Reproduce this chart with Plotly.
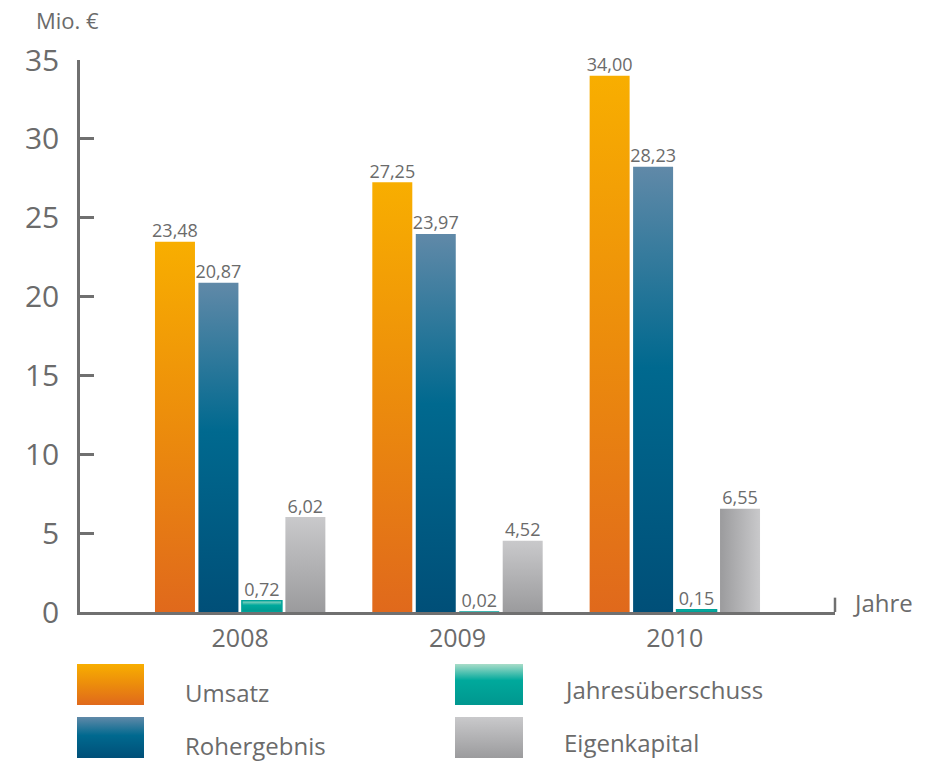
import plotly.graph_objects as go

# ---- data (Mio. €) ----
years = ["2008", "2009", "2010"]
series_names = ["Umsatz", "Rohergebnis", "Jahresüberschuss", "Eigenkapital"]
umsatz = [23.48, 27.25, 34.00]
rohergebnis = [20.87, 23.97, 28.23]
jahresueberschuss = [0.72, 0.02, 0.15]
eigenkapital = [6.02, 4.52, 6.55]
y_ticks = [0, 5, 10, 15, 20, 25, 30, 35]

values = [umsatz, rohergebnis, jahresueberschuss, eigenkapital]

# ---- styling ----
TXT = "#6b6b6b"
AXIS = "#707070"
FONT = "Open Sans"
gradients = [
    [[0, "#e0691c"], [0.5, "#ec8c0c"], [1, "#f8ae00"]],
    [[0, "#004f78"], [0.55, "#00698f"], [1, "#6089a8"]],
    [[0, "#00978f"], [0.6, "#00a99c"], [1, "#a8dcc8"]],
    [[0, "#9b9b9d"], [1, "#c9c9cb"]],
]
edge = ["#e0691c", "#004f78", "#00a39a", "#9b9b9d"]

slot = 0.2        # distance between bars inside a group
half_w = 0.092    # half bar width (axis units)

fig = go.Figure()

for j, (name, vals) in enumerate(zip(series_names, values)):
    xs_c = []
    for i, v in enumerate(vals):
        xc = i + (j - 1.5) * slot
        xs_c.append(xc)
        grad = dict(type="vertical", colorscale=gradients[j], start=0, stop=v)
        # last equity bar is shaded left-to-right
        if j == 3 and i == 2:
            grad = dict(type="horizontal", colorscale=gradients[j],
                        start=xc - half_w, stop=xc + half_w)
        fig.add_trace(go.Scatter(
            x=[xc - half_w, xc + half_w, xc + half_w, xc - half_w, xc - half_w],
            y=[0, 0, v, v, 0],
            mode="lines", fill="toself", fillgradient=grad,
            line=dict(width=1.5 if j == 2 else 0, color=edge[j]),
            hoverinfo="skip", showlegend=False,
        ))
    fig.add_trace(go.Scatter(
        x=xs_c, y=vals, mode="text",
        text=[f"{v:.2f}".replace(".", ",") for v in vals],
        textposition="top center",
        textfont=dict(size=18, color=TXT, family=FONT),
        cliponaxis=False, showlegend=False, hoverinfo="skip",
    ))

# ---- legend drawn in its own pixel-scaled subplot below the chart ----
legend_pos = [  # (x0, x1, y_top, y_bottom, text_x, text_y)
    (77, 144, 664, 705, 183, 692),
    (77, 144, 717, 758, 183, 745),
    (455, 523, 664, 705, 562, 689),
    (455, 523, 717, 758, 562, 742),
]
for j, (x0, x1, yt, yb, tx, ty) in enumerate(legend_pos):
    fig.add_trace(go.Scatter(
        x=[x0, x1, x1, x0, x0], y=[yb, yb, yt, yt, yb],
        xaxis="x2", yaxis="y2", mode="lines", fill="toself",
        fillgradient=dict(type="vertical", colorscale=gradients[j], start=yb, stop=yt),
        line=dict(width=0), hoverinfo="skip", showlegend=False,
    ))
    fig.add_annotation(
        x=tx, y=ty, xref="x2", yref="y2", text=series_names[j],
        showarrow=False, xanchor="left", yanchor="middle",
        font=dict(size=24, color=TXT, family=FONT),
    )

W, H = 932, 762
ML, MR, MT, MB = 40, 40, 60, 0
pw = W - ML - MR
ph = H - MT - MB
plot_left, plot_right, plot_bottom = 80, 835, 612

x_dom = [(plot_left - ML) / pw, (plot_right - ML) / pw]
y_dom = [(H - MB - plot_bottom) / ph, 1]

fig.update_layout(
    template="none",
    width=W, height=H,
    margin=dict(l=ML, r=MR, t=MT, b=MB, pad=0),
    paper_bgcolor="white", plot_bgcolor="white",
    font=dict(family=FONT, color=TXT),
    showlegend=False,
    xaxis=dict(
        domain=x_dom, range=[-0.737, 2.737], automargin=False,
        tickmode="array", tickvals=[0, 1, 2], ticktext=years,
        showgrid=False, zeroline=False, showline=True,
        linecolor=AXIS, linewidth=2.5, ticks="",
        tickfont=dict(size=25, color=TXT, family=FONT),
        ticklabelstandoff=2,
    ),
    yaxis=dict(
        domain=y_dom, range=[0, 35], automargin=False,
        tickmode="array", tickvals=y_ticks,
        showgrid=False, zeroline=False, showline=True,
        linecolor=AXIS, linewidth=2.5,
        ticks="inside", ticklen=14, tickwidth=2.5, tickcolor=AXIS,
        tickfont=dict(size=30, color=TXT, family=FONT),
        ticklabelstandoff=12,
    ),
    xaxis2=dict(domain=[0, 1], range=[ML, W - MR], visible=False,
                anchor="y2", automargin=False),
    yaxis2=dict(domain=[0, y_dom[0]], range=[H, plot_bottom], visible=False,
                anchor="x2", automargin=False),
)

# short end tick at the right end of the category axis
fig.add_shape(type="line", xref="x domain", yref="y domain", x0=1, x1=1, y0=0, y1=0.026,
              line=dict(color=AXIS, width=2.5))

# axis titles
fig.add_annotation(text="Mio. €", xref="paper", yref="paper",
                   x=(34 - ML) / pw, y=(H - 20) / ph, xanchor="left", yanchor="middle",
                   showarrow=False, font=dict(size=22, color=TXT, family=FONT))
fig.add_annotation(text="Jahre", xref="paper", yref="paper",
                   x=(851 - ML) / pw, y=(H - 602) / ph, xanchor="left", yanchor="middle",
                   showarrow=False, font=dict(size=24, color=TXT, family=FONT))

fig.write_html("out.html")
